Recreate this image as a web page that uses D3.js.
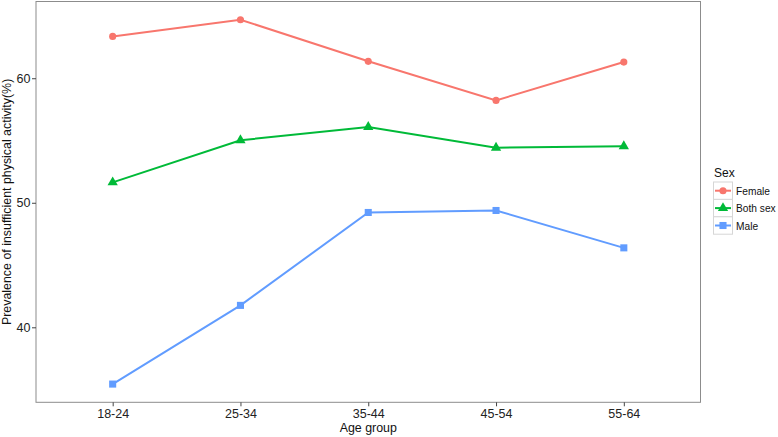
<!DOCTYPE html>
<html>
<head>
<meta charset="utf-8">
<script src="https://cdn.jsdelivr.net/npm/d3@7"></script>
<style>
  body { margin: 0; background: #fff; }
  text { font-family: "Liberation Sans", Arial, sans-serif; }
</style>
</head>
<body>
<div id="chart"></div>
<script>
var width = 778;
var height = 437;

// data
var ageGroups = ["18-24", "25-34", "35-44", "45-54", "55-64"];
var seriesNames = ["Female", "Both sex", "Male"];
var female = [63.36, 64.70, 61.36, 58.22, 61.30];
var bothSex = [51.64, 55.02, 56.08, 54.42, 54.54];
var male = [35.44, 41.76, 49.22, 49.38, 46.38];
var yTicks = [40, 50, 60];

var colors = ["#F8766D", "#00BA38", "#619CFF"];
var shapes = [d3.symbolCircle, d3.symbolTriangle, d3.symbolSquare];
var shapeSizes = [40, 46, 50];

var panel = { left: 36, right: 700.5, top: 1.5, bottom: 402.3 };

var svg = d3.select("#chart").append("svg")
    .attr("width", width)
    .attr("height", height);

// ggplot style discrete axis, 0.6 padding on each side
var x = d3.scalePoint()
    .domain(ageGroups)
    .range([panel.left, panel.right])
    .padding(0.6);

var allValues = female.concat(bothSex, male);
var lo = d3.min(allValues), hi = d3.max(allValues);
var pad = (hi - lo) * 0.05;
var y = d3.scaleLinear()
    .domain([lo - pad, hi + pad])
    .range([panel.bottom, panel.top]);

// panel
svg.append("rect")
    .attr("x", panel.left)
    .attr("y", panel.top)
    .attr("width", panel.right - panel.left)
    .attr("height", panel.bottom - panel.top)
    .attr("fill", "#fff")
    .attr("stroke", "#8c8c8c")
    .attr("stroke-width", 1);

// axes
var xAxis = svg.append("g")
    .attr("transform", "translate(0," + panel.bottom + ")")
    .call(d3.axisBottom(x).tickSize(4).tickPadding(3));
var yAxis = svg.append("g")
    .attr("transform", "translate(" + panel.left + ",0)")
    .call(d3.axisLeft(y).tickValues(yTicks).tickSize(4).tickPadding(1.5));

[xAxis, yAxis].forEach(function (g) {
    g.select(".domain").remove();
    g.selectAll(".tick line").attr("stroke", "#444");
    g.selectAll(".tick text")
        .attr("fill", "#222")
        .style("font-size", "12.5px")
        .style("font-family", "'Liberation Sans', Arial, sans-serif");
});

// axis titles
svg.append("text")
    .attr("x", x("35-44"))
    .attr("y", 432)
    .attr("text-anchor", "middle")
    .style("font-size", "12.4px")
    .attr("fill", "#111")
    .text("Age group");

svg.append("text")
    .attr("transform", "translate(11," + ((panel.top + panel.bottom) / 2) + ") rotate(-90)")
    .attr("text-anchor", "middle")
    .style("font-size", "12.4px")
    .attr("fill", "#111")
    .text("Prevalence of insufficient physical activity(%)");

// lines and points
var series = [female, bothSex, male];
var line = d3.line()
    .x(function (d, i) { return x(ageGroups[i]); })
    .y(function (d) { return y(d); });

series.forEach(function (vals, s) {
    svg.append("path")
        .datum(vals)
        .attr("d", line)
        .attr("fill", "none")
        .attr("stroke", colors[s])
        .attr("stroke-width", 2);

    svg.selectAll(".pt" + s)
        .data(vals)
        .enter()
        .append("path")
        .attr("class", "pt" + s)
        .attr("transform", function (d, i) {
            return "translate(" + x(ageGroups[i]) + "," + y(d) + ")";
        })
        .attr("d", d3.symbol().type(shapes[s]).size(shapeSizes[s]))
        .attr("fill", colors[s]);
});

// legend
var legend = svg.append("g").attr("transform", "translate(713,0)");
legend.append("text")
    .attr("x", 1)
    .attr("y", 177)
    .style("font-size", "12px")
    .attr("fill", "#111")
    .text("Sex");

var keyH = 17.4;
seriesNames.forEach(function (name, s) {
    var ky = 182 + s * keyH;
    legend.append("rect")
        .attr("x", 0.5)
        .attr("y", ky)
        .attr("width", 19)
        .attr("height", keyH)
        .attr("fill", "#fff")
        .attr("stroke", "#d6d6d6");
    legend.append("line")
        .attr("x1", 2).attr("x2", 18)
        .attr("y1", ky + keyH / 2).attr("y2", ky + keyH / 2)
        .attr("stroke", colors[s])
        .attr("stroke-width", 2);
    legend.append("path")
        .attr("transform", "translate(10," + (ky + keyH / 2) + ")")
        .attr("d", d3.symbol().type(shapes[s]).size(shapeSizes[s]))
        .attr("fill", colors[s]);
    legend.append("text")
        .attr("x", 23)
        .attr("y", ky + keyH / 2 + 4)
        .style("font-size", "10.2px")
        .attr("fill", "#111")
        .text(name);
});
</script>
</body>
</html>
